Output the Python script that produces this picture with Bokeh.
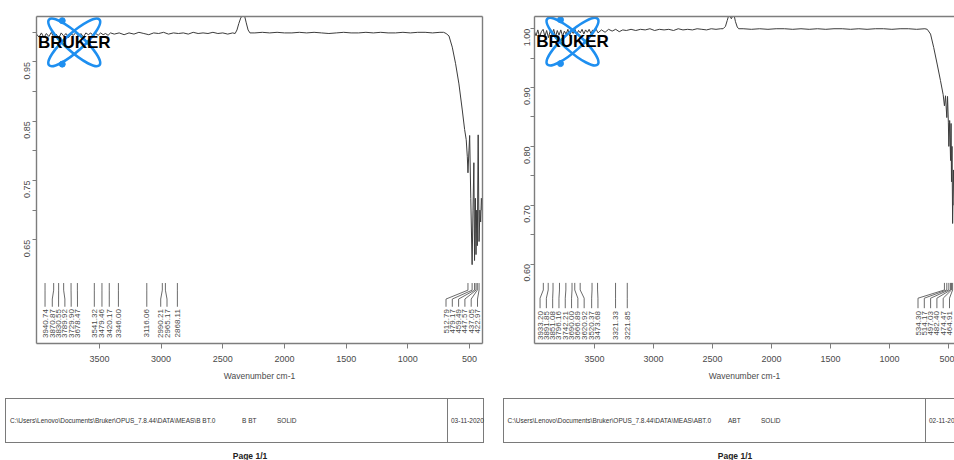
import math
from bokeh.plotting import figure
from bokeh.layouts import row, column
from bokeh.models import FixedTicker, Range1d, LinearAxis, Div, NumeralTickFormatter
from bokeh.core.properties import value
from bokeh.embed import file_html
from bokeh.resources import INLINE

# ---------------- B BT spectrum (transmittance vs wavenumber) ----------------
bbt_wn = [4010, 3990, 3970, 3950, 3930, 3910, 3890, 3870, 3850, 3830, 3810, 3790,
          3770, 3750, 3730, 3710, 3690, 3670, 3650, 3630, 3610, 3590, 3570, 3550,
          3530, 3510, 3490, 3470, 3450, 3430, 3410,
          3380, 3340, 3300, 3260, 3220, 3180, 3140, 3100, 3060, 3020, 2980, 2940,
          2900, 2860, 2820, 2780, 2740, 2700, 2660, 2620, 2580, 2540, 2500, 2460, 2420,
          2400, 2385, 2370, 2355, 2340, 2325, 2310, 2295, 2280,
          2240, 2180, 2120, 2060, 2000, 1940, 1880, 1820, 1760, 1700, 1640, 1580,
          1520, 1460, 1400, 1340, 1280, 1220, 1160, 1100, 1040, 980, 920, 860, 800, 740,
          710, 690, 667, 640, 613, 586, 559, 540, 527, 518, 512.79, 505, 499, 490,
          479.17, 472, 465, 459.49, 453, 447.57, 442, 437.05, 430, 422.97, 416, 410,
          404, 398, 394]
bbt_tr = [0.997, 0.992, 0.999, 0.991, 0.998, 0.993, 1.000, 0.992, 0.997, 0.990, 0.999, 0.994,
          0.998, 0.991, 0.997, 0.995, 1.000, 0.993, 0.998, 0.992, 0.999, 0.996, 0.999, 0.994,
          0.998, 0.995, 0.999, 0.996, 0.998, 0.995, 0.999,
          0.997, 0.999, 0.996, 0.999, 0.997, 1.000, 0.998, 0.996, 0.999, 0.998, 1.000, 0.997,
          0.999, 0.998, 0.999, 0.997, 1.000, 0.998, 0.999, 0.998, 1.000, 0.998, 0.999, 0.997, 0.999,
          0.998, 1.004, 1.015, 1.024, 1.029, 1.029, 1.016, 1.004, 0.999,
          0.999, 1.000, 0.999, 1.000, 0.999, 0.999, 1.000, 0.999, 1.000, 0.999, 0.998, 0.999,
          1.000, 0.999, 0.999, 1.000, 0.999, 1.000, 0.999, 0.999, 1.000, 0.999, 1.000, 1.000, 0.999, 1.000,
          1.000, 0.998, 0.994, 0.975, 0.947, 0.913, 0.869, 0.836, 0.819, 0.790, 0.763, 0.800, 0.826, 0.720,
          0.608, 0.700, 0.780, 0.615, 0.720, 0.625, 0.700, 0.640, 0.827, 0.647, 0.700, 0.680,
          0.720, 0.700, 0.710]
bbt_peaks = [3940.74, 3870.87, 3830.55, 3789.92, 3729.90, 3678.47, 3541.32, 3479.46,
             3420.17, 3346.00, 3116.06, 2990.21, 2965.17, 2868.11,
             512.79, 479.17, 459.49, 447.57, 437.05, 422.97]

# ---------------- ABT spectrum ----------------
abt_wn = [4010, 3995, 3980, 3965, 3950, 3935, 3920, 3905, 3890, 3875, 3860, 3845, 3830,
          3815, 3800, 3785, 3770, 3755, 3740, 3725, 3710, 3695, 3680, 3665, 3650, 3635,
          3620, 3605, 3590, 3575, 3560, 3545, 3530, 3515, 3500, 3485, 3470,
          3440, 3410, 3380, 3350, 3320, 3290, 3260, 3230,
          3190, 3150, 3110, 3070, 3030, 2990, 2950, 2910, 2870, 2830, 2790, 2750, 2710,
          2670, 2630, 2590, 2550, 2510, 2470, 2430,
          2410, 2390, 2375, 2360, 2350, 2340, 2330, 2318, 2305, 2290, 2278,
          2240, 2170, 2100, 2030, 1960, 1890, 1820, 1750, 1680, 1610, 1540, 1470, 1400,
          1330, 1260, 1190, 1120, 1050, 980, 910, 840, 770, 700,
          680, 652, 625, 596, 568, 545, 534.30, 525, 514.17, 508, 501, 497.03, 490,
          482.40, 478, 474.47, 470, 464.91, 458, 452, 446]
abt_tr = [0.996, 0.988, 0.998, 0.986, 0.995, 0.999, 0.987, 0.997, 0.985, 0.996, 0.990, 0.999, 0.986,
          0.997, 0.989, 0.998, 0.987, 0.996, 0.991, 0.999, 0.988, 0.997, 0.992, 0.999, 0.990, 0.997,
          0.993, 0.999, 0.991, 0.998, 0.994, 0.999, 0.992, 0.998, 0.995, 0.999, 0.993,
          0.998, 0.994, 0.999, 0.996, 0.999, 0.995, 0.998, 0.997,
          0.999, 0.997, 0.999, 0.998, 1.000, 0.997, 0.999, 0.998, 0.999, 0.997, 1.000, 0.998, 0.999,
          0.998, 1.000, 0.999, 0.998, 1.000, 0.999, 1.000,
          1.000, 1.004, 1.014, 1.024, 1.021, 1.017, 1.021, 1.024, 1.012, 1.003, 1.000,
          1.000, 0.999, 1.000, 0.999, 1.000, 1.000, 0.999, 1.000, 0.999, 1.000, 0.999, 1.000, 1.000,
          0.999, 1.000, 0.999, 1.000, 1.000, 0.999, 1.000, 1.000, 0.999, 1.000,
          0.999, 0.991, 0.968, 0.940, 0.912, 0.888, 0.869, 0.886, 0.849, 0.885, 0.840, 0.800, 0.844,
          0.776, 0.839, 0.740, 0.800, 0.669, 0.760, 0.700, 0.720]
abt_peaks = [3933.20, 3891.85, 3851.08, 3796.16, 3742.21, 3690.00, 3666.89, 3620.92,
             3520.37, 3473.68, 3321.33, 3221.85,
             534.30, 514.17, 497.03, 482.40, 474.47, 464.91]

# ---------------- axes ----------------
x_ticks = [3500, 3000, 2500, 2000, 1500, 1000, 500]
bbt_y_major = [0.65, 0.75, 0.85, 0.95]
bbt_y_minor = [0.70, 0.80, 0.90, 1.00]
abt_y_major = [0.60, 0.70, 0.80, 0.90, 1.00]
abt_y_minor = [0.65, 0.75, 0.85, 0.95]
x_title = "Wavenumber cm-1"

# ---------------- report footers ----------------
bbt_footer = [r"C:\Users\Lenovo\Documents\Bruker\OPUS_7.8.44\DATA\MEAS\B BT.0", "B BT", "SOLID", "03-11-2020"]
abt_footer = [r"C:\Users\Lenovo\Documents\Bruker\OPUS_7.8.44\DATA\MEAS\ABT.0", "ABT", "SOLID", "02-11-2020"]
page_text = "Page 1/1"

# ---------------- styling ----------------
FONT = "Liberation Sans"
FRAME = "#7d7d7d"
INK = "#3c3c3c"
LABEL_INK = "#4a4a4a"
BLUE = "#1e8ff0"
PANEL_H = 390
FOOT_H = 70
GAP_PX = 6.3
EDGE_PX = 5

LEFT_CFG = dict(width=492, border=(36, 10, 12, 47), x_range=(4010, 395), y_range=(0.475, 1.0267),
                y_major=bbt_y_major, y_minor=bbt_y_minor, y_standoff=5,
                ann=(0.577, 0.565, 0.550, 0.537, 0.533), logo=(3704, 0.983))
RIGHT_CFG = dict(width=462, border=(42, 0, 16, 46), x_range=(4008, 449), y_range=(0.465, 1.0208),
                 y_major=abt_y_major, y_minor=abt_y_minor, y_standoff=3,
                 ann=(0.568, 0.556, 0.542, 0.525, 0.520), logo=(3686, 0.978))


def spread(px, gap, lo, hi):
    """Push sorted label positions apart until neighbours are at least `gap` apart."""
    pos = list(px)
    for _ in range(3000):
        moved = False
        for i in range(len(pos) - 1):
            d = pos[i + 1] - pos[i]
            if d < gap - 1e-6:
                s = (gap - d) / 2
                pos[i] -= s
                pos[i + 1] += s
                moved = True
        pos = [min(max(q, lo), hi) for q in pos]
        if not moved:
            break
    return pos


def border_axis():
    return LinearAxis(ticker=FixedTicker(ticks=[]), major_label_text_font_size="0px",
                      major_tick_line_color=None, minor_tick_line_color=None,
                      axis_line_color=FRAME, axis_line_width=1.4)


def spectrum_panel(wn, tr, peaks, cfg, right_border):
    bl, br, bt, bb = cfg["border"]
    x0, x1 = cfg["x_range"]
    p = figure(width=cfg["width"], height=PANEL_H,
               x_range=Range1d(x0, x1), y_range=Range1d(*cfg["y_range"]),
               output_backend="svg", toolbar_location=None,
               min_border_left=bl, min_border_right=br,
               min_border_top=bt, min_border_bottom=bb,
               outline_line_color=None, background_fill_color="white",
               border_fill_color="white")
    p.grid.visible = False

    xa = p.xaxis[0]
    xa.ticker = FixedTicker(ticks=x_ticks)
    xa.axis_label = x_title
    xa.axis_label_text_font = FONT
    xa.axis_label_text_font_size = "8.5px"
    xa.axis_label_text_font_style = "normal"
    xa.axis_label_text_color = LABEL_INK
    xa.axis_label_standoff = 6
    xa.major_label_text_font = FONT
    xa.major_label_text_font_size = "9px"
    xa.major_label_text_color = LABEL_INK
    xa.major_label_standoff = 7
    xa.major_tick_in = 0
    xa.major_tick_out = 5
    xa.minor_tick_line_color = None
    xa.axis_line_color = FRAME
    xa.axis_line_width = 1.4
    xa.major_tick_line_color = FRAME

    ya = p.yaxis[0]
    ya.ticker = FixedTicker(ticks=cfg["y_major"], minor_ticks=cfg["y_minor"])
    ya.formatter = NumeralTickFormatter(format="0.00")
    ya.major_label_orientation = math.pi / 2
    ya.major_label_text_font = FONT
    ya.major_label_text_font_size = "9px"
    ya.major_label_text_color = LABEL_INK
    ya.major_label_standoff = cfg["y_standoff"]
    ya.major_tick_in = 0
    ya.major_tick_out = 4
    ya.minor_tick_in = 0
    ya.minor_tick_out = 4
    ya.axis_line_color = FRAME
    ya.axis_line_width = 1.4
    ya.major_tick_line_color = FRAME
    ya.minor_tick_line_color = FRAME

    p.add_layout(border_axis(), "above")
    if right_border:
        p.add_layout(border_axis(), "right")

    # spectrum trace
    p.line(wn, tr, line_color=INK, line_width=1.0)

    # peak picking marks with spread-out labels
    frame_w = cfg["width"] - bl - br
    k = frame_w / (x0 - x1)
    order = sorted(range(len(peaks)), key=lambda i: -peaks[i])
    px = [(x0 - peaks[i]) * k for i in order]
    lab_px = spread(px, GAP_PX, EDGE_PX, frame_w - EDGE_PX)
    lab_w = [x0 - q / k for q in lab_px]
    y0, y1, y2, y3, yt = cfg["ann"]
    xs, ys = [], []
    for i, lw in zip(order, lab_w):
        w = peaks[i]
        xs.append([w, w, lw, lw])
        ys.append([y0, y1, y2, y3])
    p.multi_line(xs, ys, line_color="#5a5a5a", line_width=0.9)
    p.text(x=lab_w, y=[yt] * len(lab_w), text=["%.2f" % peaks[i] for i in order],
           angle=math.pi / 2, text_align="right", text_baseline="middle",
           text_font=value(FONT), text_font_size="8px", text_color=LABEL_INK)

    # instrument logo in the upper left corner
    cx, cy = cfg["logo"]
    ky = (PANEL_H - bt - bb) / (cfg["y_range"][1] - cfg["y_range"][0])
    for ang in (0.735, -0.735):
        p.ellipse(x=[cx], y=[cy], width=68, height=18, angle=ang,
                  width_units="screen", height_units="screen",
                  fill_color=None, line_color=BLUE, line_width=2.6)
    p.scatter(x=[cx + 12 / k, cx + 12 / k], y=[cy + 22 / ky, cy - 22 / ky],
              size=6, color=BLUE)
    p.text(x=[cx], y=[cy], text=["BRUKER"], text_align="center", text_baseline="middle",
           text_font=value(FONT), text_font_style="bold", text_font_size="17px",
           text_color="black")
    return p


def footer(texts, width, box_left, box_width, divider, cols, page_center):
    path, name, form, date = texts
    line = "1.5px solid #7a7a7a"
    spans = "".join(
        '<span style="position:absolute;left:%gpx;top:26px;font-size:6.5px;white-space:nowrap;">%s</span>' % (x, t)
        for x, t in zip(cols, (path, name, form, date)))
    html = (
        '<div style="position:relative;width:%dpx;height:%dpx;overflow:hidden;'
        "font-family:'%s',sans-serif;color:#333;\">" % (width, FOOT_H, FONT)
        + '<div style="position:absolute;left:%gpx;top:8px;width:%gpx;height:45px;'
          'box-sizing:border-box;border:%s;"></div>' % (box_left, box_width, line)
        + '<div style="position:absolute;left:%gpx;top:8px;width:0;height:45px;'
          'border-left:%s;"></div>' % (divider, line)
        + spans
        + '<div style="position:absolute;left:%gpx;width:100px;top:60px;text-align:center;'
          'font-weight:bold;font-size:8.5px;color:#222;">%s</div>' % (page_center - 50, page_text)
        + "</div>")
    return Div(text=html, width=width, height=FOOT_H, margin=0, styles={"overflow": "hidden"})


left = spectrum_panel(bbt_wn, bbt_tr, bbt_peaks, LEFT_CFG, True)
right = spectrum_panel(abt_wn, abt_tr, abt_peaks, RIGHT_CFG, False)

left_foot = footer(bbt_footer, 492, 5, 479, 447, (10, 242, 277, 451), 250)
right_foot = footer(abt_footer, 462, 11, 470, 433, (15.5, 236, 269, 437), 243)

page = column(row(left, right), row(left_foot, right_foot))

open("out.html", "w").write(file_html(page, INLINE))
